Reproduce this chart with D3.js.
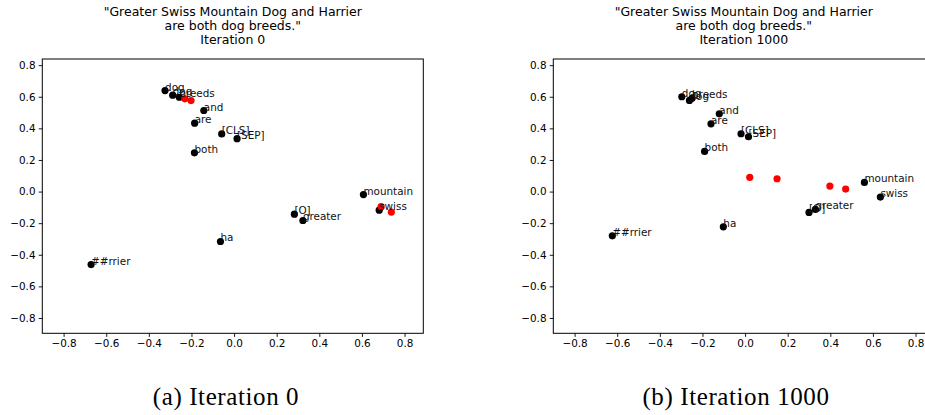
<!DOCTYPE html>
<html>
<head>
<meta charset="utf-8">
<script src="https://cdn.jsdelivr.net/npm/d3@7"></script>
<style>
  body { margin: 0; background: #fff; }
  svg { display: block; }
  .tick text { font-family: "DejaVu Sans", sans-serif; font-size: 10.4px; fill: #000; }
  .tick line { stroke: #000; stroke-width: 0.9; }
  .domain { display: none; }
</style>
</head>
<body>
<div id="bd"></div>
<script>
// token labels (same order in both panels)
var tokens = ["dog", "dog", "breeds", "and", "are", "[CLS]", "[SEP]", "both",
              "mountain", "swiss", "[O]", "greater", "ha", "##rrier"];

// iteration 0 embeddings
var iter0X = [-0.324, -0.288, -0.257, -0.142, -0.185, -0.058, 0.014, -0.186,
              0.607, 0.681, 0.283, 0.323, -0.064, -0.671];
var iter0Y = [0.639, 0.610, 0.597, 0.513, 0.433, 0.365, 0.335, 0.245,
              -0.019, -0.118, -0.143, -0.183, -0.316, -0.462];
var prompt0X = [-0.231, -0.202, 0.690, 0.738];
var prompt0Y = [0.587, 0.576, -0.095, -0.130];

// iteration 1000 embeddings
var iter1000X = [-0.297, -0.261, -0.249, -0.121, -0.160, -0.019, 0.016, -0.190,
                 0.560, 0.635, 0.300, 0.330, -0.102, -0.623];
var iter1000Y = [0.600, 0.577, 0.590, 0.492, 0.429, 0.366, 0.347, 0.254,
                 0.058, -0.035, -0.132, -0.113, -0.223, -0.280];
var prompt1000X = [0.022, 0.150, 0.398, 0.472];
var prompt1000Y = [0.090, 0.081, 0.035, 0.016];

var xTicks = [-0.8, -0.6, -0.4, -0.2, 0.0, 0.2, 0.4, 0.6, 0.8];
var yTicks = [-0.8, -0.6, -0.4, -0.2, 0.0, 0.2, 0.4, 0.6, 0.8];
var titleLines = ["\"Greater Swiss Mountain Dog and Harrier", "are both dog breeds.\""];
var iterations = [0, 1000];
var captions = ["(a) Iteration 0", "(b) Iteration 1000"];

var width = 925, height = 415;
var plotW = 381, plotTop = 59, plotBottom = 333.3;
var panelLeft = [42.3, 553.3];
var captionX = [226, 736];

var svg = d3.select("#bd").append("svg")
    .attr("width", width)
    .attr("height", height);

var y = d3.scaleLinear().domain([-0.897, 0.839]).range([plotBottom, plotTop]);
var fmt = function (d) { return d3.format(".1f")(d).replace("-", "\u2212"); };

var panels = [
    {xs: iter0X, ys: iter0Y, px: prompt0X, py: prompt0Y},
    {xs: iter1000X, ys: iter1000Y, px: prompt1000X, py: prompt1000Y}
];

panels.forEach(function (p, i) {
    var left = panelLeft[i];
    var x = d3.scaleLinear().domain([-0.9, 0.888]).range([left, left + plotW]);
    var g = svg.append("g");

    // title
    var cx = left + plotW / 2;
    titleLines.concat(["Iteration " + iterations[i]]).forEach(function (t, k) {
        g.append("text")
            .attr("x", cx)
            .attr("y", 15.5 + k * 14)
            .attr("text-anchor", "middle")
            .style("font-family", "DejaVu Sans, sans-serif")
            .style("font-size", "12.5px")
            .text(t);
    });

    // axes
    g.append("g")
        .attr("transform", "translate(0," + plotBottom + ")")
        .call(d3.axisBottom(x).tickValues(xTicks).tickFormat(fmt).tickSizeOuter(0).tickSize(3.6).tickPadding(3.2));
    g.append("g")
        .attr("transform", "translate(" + left + ",0)")
        .call(d3.axisLeft(y).tickValues(yTicks).tickFormat(fmt).tickSizeOuter(0).tickSize(3.6).tickPadding(3.2));

    // frame
    g.append("rect")
        .attr("x", left)
        .attr("y", plotTop)
        .attr("width", plotW)
        .attr("height", plotBottom - plotTop)
        .attr("fill", "none")
        .attr("stroke", "#000")
        .attr("stroke-width", 1);

    var pts = tokens.map(function (t, k) { return {label: t, x: p.xs[k], y: p.ys[k]}; });
    var red = p.px.map(function (v, k) { return {x: v, y: p.py[k]}; });

    g.append("g").selectAll("circle")
        .data(pts)
        .enter().append("circle")
        .attr("cx", function (d) { return x(d.x); })
        .attr("cy", function (d) { return y(d.y); })
        .attr("r", 3.6)
        .attr("fill", "#000");

    g.append("g").selectAll("circle")
        .data(red)
        .enter().append("circle")
        .attr("cx", function (d) { return x(d.x); })
        .attr("cy", function (d) { return y(d.y); })
        .attr("r", 3.6)
        .attr("fill", "#ff0000");

    g.append("g").selectAll("text")
        .data(pts)
        .enter().append("text")
        .attr("x", function (d) { return x(d.x); })
        .attr("y", function (d) { return y(d.y); })
        .style("font-family", "DejaVu Sans, sans-serif")
        .style("font-size", "10.4px")
        .attr("fill", "#111")
        .text(function (d) { return d.label; });

    // caption
    svg.append("text")
        .attr("x", captionX[i])
        .attr("y", 405)
        .attr("text-anchor", "middle")
        .style("font-family", "Liberation Serif, serif")
        .style("font-size", "25px")
        .style("letter-spacing", "0.6px")
        .text(captions[i]);
});
</script>
</body>
</html>
